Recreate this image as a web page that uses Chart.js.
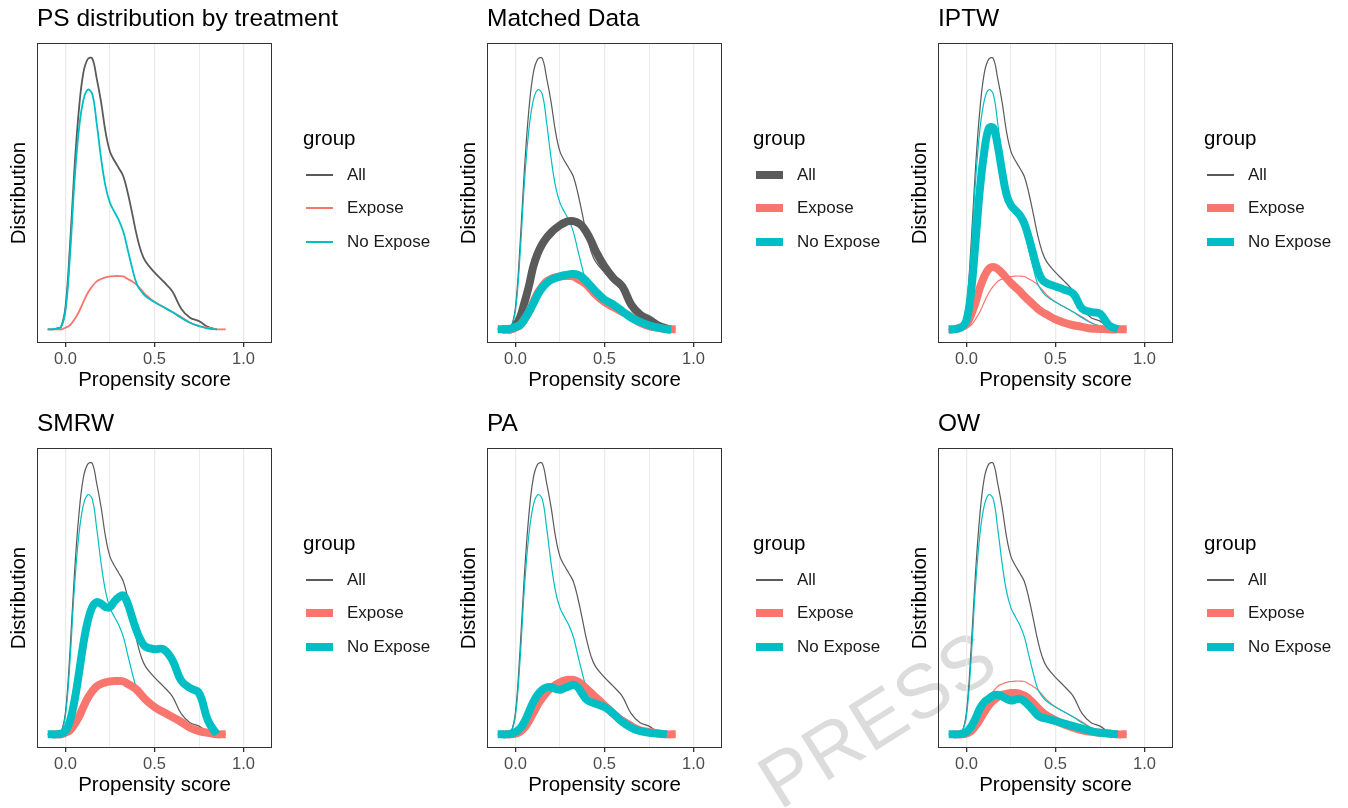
<!DOCTYPE html>
<html lang="en">
<head>
<meta charset="UTF-8">
<title>PS distribution by treatment</title>
<script src="https://cdn.jsdelivr.net/npm/chart.js"></script>
<style>
  body { margin: 0; background: #fff; font-family: "Liberation Sans", Arial, sans-serif; }
  #page { position: relative; width: 1348px; height: 808px; overflow: hidden; }
  .panel { position: absolute; width: 449px; height: 405px; z-index: 1; }
  .panel canvas { position: absolute; left: 0; top: 0; }
  .ptitle { position: absolute; left: 37px; top: 4px; font-size: 24.5px; line-height: 28px; color: #000; white-space: nowrap; }
  .legend { position: absolute; left: 303px; top: 126px; width: 146px; }
  .legend .ltitle { font-size: 20.5px; line-height: 24px; color: #000; }
  .legend .row { position: absolute; left: 0; height: 24px; display: flex; align-items: center; white-space: nowrap; font-size: 17px; color: #1a1a1a; }
  .legend .key { display: inline-block; width: 27px; margin-left: 3px; margin-right: 14px; }
  .watermark { position: absolute; left: 786px; top: 745px; font-size: 76px; line-height: 76px; color: #dcdcdc; transform: rotate(-32deg); transform-origin: 0 100%; letter-spacing: 1px; z-index: 0; white-space: nowrap; }
</style>
</head>
<body>
<div id="page">
  <div class="watermark">PRESS</div>
</div>

<script>
  // propensity score grid (x values shared by every curve)
  const ps = [-0.1, -0.075, -0.05, -0.025, 0, 0.025, 0.05, 0.075, 0.1, 0.125, 0.15, 0.175, 0.2, 0.225, 0.25, 0.275,
              0.3, 0.325, 0.35, 0.375, 0.4, 0.425, 0.45, 0.5, 0.55, 0.6, 0.65, 0.7, 0.75, 0.8, 0.85, 0.875, 0.9];

  // unweighted densities (thin lines, in every panel)
  const allBase      = [0, 0, 0.01, 0.03, 0.27, 1.0, 1.93, 2.65, 3.10, 3.27, 3.28, 3.04, 2.75, 2.39, 2.15, 2.04,
                        1.95, 1.85, 1.65, 1.40, 1.14, 0.94, 0.82, 0.69, 0.58, 0.46, 0.25, 0.14, 0.10, 0.03, 0, null, null];
  const exposeBase   = [null, 0, 0, 0, 0.02, 0.05, 0.12, 0.21, 0.33, 0.44, 0.52, 0.58, 0.61, 0.63, 0.64, 0.645,
                        0.645, 0.64, 0.61, 0.58, 0.54, 0.48, 0.42, 0.33, 0.27, 0.21, 0.15, 0.08, 0.04, 0.02, 0, 0, 0];
  const noExposeBase = [0, 0, 0.01, 0.03, 0.23, 0.88, 1.77, 2.41, 2.77, 2.90, 2.85, 2.50, 2.07, 1.73, 1.53, 1.42,
                        1.32, 1.18, 0.96, 0.74, 0.55, 0.46, 0.40, 0.33, 0.27, 0.21, 0.14, 0.08, 0.04, 0.01, 0, null, null];

  // weighted / matched densities (thick lines)
  const matchedAll      = [null, 0, 0, 0, 0.04, 0.14, 0.32, 0.52, 0.76, 0.92, 1.03, 1.11, 1.17, 1.22, 1.26, 1.29,
                           1.31, 1.31, 1.29, 1.25, 1.17, 1.07, 0.95, 0.76, 0.62, 0.52, 0.30, 0.18, 0.12, 0.05, 0.01, 0, null];
  const matchedNoExpose = [0, 0, 0, 0.01, 0.03, 0.05, 0.12, 0.21, 0.31, 0.42, 0.50, 0.56, 0.60, 0.62, 0.64, 0.655,
                           0.665, 0.67, 0.66, 0.63, 0.58, 0.52, 0.46, 0.36, 0.30, 0.22, 0.14, 0.09, 0.05, 0.02, 0, 0, null];
  const iptwExpose      = [0, 0, 0.01, 0.03, 0.06, 0.17, 0.32, 0.50, 0.64, 0.73, 0.755, 0.73, 0.68, 0.62, 0.56, 0.51,
                           0.46, 0.40, 0.35, 0.30, 0.25, 0.21, 0.18, 0.12, 0.08, 0.05, 0.03, 0.01, 0.005, 0, 0, 0, 0];
  const iptwNoExpose    = [0, 0, 0.01, 0.03, 0.11, 0.44, 1.04, 1.69, 2.15, 2.43, 2.44, 2.23, 1.91, 1.63, 1.50, 1.44,
                           1.38, 1.28, 1.11, 0.91, 0.72, 0.60, 0.56, 0.52, 0.48, 0.43, 0.25, 0.21, 0.19, 0.05, 0, null, null];
  const smrwNoExpose    = [0, 0, 0, 0.01, 0.04, 0.16, 0.40, 0.73, 1.09, 1.37, 1.54, 1.60, 1.58, 1.54, 1.54, 1.61,
                           1.66, 1.68, 1.58, 1.41, 1.25, 1.13, 1.06, 1.03, 1.03, 0.90, 0.65, 0.56, 0.50, 0.17, 0, null, null];
  const paExpose        = [null, 0, 0, 0, 0.01, 0.03, 0.08, 0.16, 0.26, 0.36, 0.44, 0.51, 0.56, 0.60, 0.63, 0.65,
                           0.66, 0.66, 0.64, 0.60, 0.55, 0.50, 0.45, 0.35, 0.25, 0.16, 0.09, 0.05, 0.03, 0.01, 0, 0, 0];
  const paNoExpose      = [0, 0, 0, 0.01, 0.03, 0.07, 0.15, 0.27, 0.39, 0.48, 0.54, 0.57, 0.57, 0.55, 0.54, 0.56,
                           0.58, 0.60, 0.57, 0.49, 0.42, 0.39, 0.37, 0.33, 0.25, 0.15, 0.08, 0.04, 0.02, 0.01, 0, null, null];
  const owExpose        = [null, 0, 0, 0, 0.01, 0.04, 0.10, 0.18, 0.27, 0.35, 0.41, 0.45, 0.48, 0.49, 0.50, 0.50,
                           0.49, 0.47, 0.43, 0.38, 0.32, 0.27, 0.23, 0.17, 0.12, 0.08, 0.05, 0.03, 0.02, 0.01, 0, 0, 0];
  const owNoExpose      = [0, 0, 0, 0.01, 0.03, 0.09, 0.19, 0.31, 0.39, 0.43, 0.47, 0.48, 0.46, 0.43, 0.41, 0.42,
                           0.43, 0.40, 0.35, 0.29, 0.23, 0.20, 0.19, 0.16, 0.13, 0.10, 0.07, 0.04, 0.02, 0.01, 0, null, null];

  const groups = ['All', 'Expose', 'No Expose'];
  const groupColors = ['#5a5a5a', '#F8766D', '#00BFC4'];
  const baseSeries = [allBase, exposeBase, noExposeBase];

  const panels = [
    { title: 'PS distribution by treatment', thin: 1.8, thick: [null, null, null] },
    { title: 'Matched Data', thin: 1.2, thick: [matchedAll, exposeBase, matchedNoExpose] },
    { title: 'IPTW', thin: 1.2, thick: [null, iptwExpose, iptwNoExpose] },
    { title: 'SMRW', thin: 1.2, thick: [null, exposeBase, smrwNoExpose] },
    { title: 'PA', thin: 1.2, thick: [null, paExpose, paNoExpose] },
    { title: 'OW', thin: 1.2, thick: [null, owExpose, owNoExpose] }
  ];
  const panelX = [0, 450, 901];
  const panelY = [0, 405];

  Chart.defaults.font.family = "'Liberation Sans', Arial, sans-serif";

  function points(ys) {
    return ps.map((x, i) => ({ x: x, y: ys[i] })).filter(p => p.y !== null);
  }
  function isMajor(v) {
    return Math.abs(v * 2 - Math.round(v * 2)) < 1e-9;
  }

  // ggplot style box round the panel
  const panelBorder = {
    id: 'panelBorder',
    afterDraw(chart) {
      const { ctx, chartArea: a } = chart;
      ctx.save();
      ctx.strokeStyle = '#333333';
      ctx.lineWidth = 1;
      ctx.strokeRect(a.left + 0.5, a.top + 0.5, a.width - 1, a.height - 1);
      ctx.restore();
    }
  };

  const page = document.getElementById('page');

  panels.forEach((p, k) => {
    const div = document.createElement('div');
    div.className = 'panel';
    div.style.left = panelX[k % 3] + 'px';
    div.style.top = panelY[Math.floor(k / 3)] + 'px';

    const canvas = document.createElement('canvas');
    canvas.width = 449;
    canvas.height = 405;
    div.appendChild(canvas);

    const title = document.createElement('div');
    title.className = 'ptitle';
    title.textContent = p.title;
    div.appendChild(title);

    // legend
    const legend = document.createElement('div');
    legend.className = 'legend';
    legend.innerHTML = '<div class="ltitle">group</div>';
    groups.forEach((g, i) => {
      const row = document.createElement('div');
      row.className = 'row';
      row.style.top = (37 + i * 33.4) + 'px';
      const key = document.createElement('span');
      key.className = 'key';
      key.style.height = (p.thick[i] ? 8 : Math.max(p.thin, 1.5)) + 'px';
      key.style.background = groupColors[i];
      const lab = document.createElement('span');
      lab.textContent = g;
      row.appendChild(key);
      row.appendChild(lab);
      legend.appendChild(row);
    });
    div.appendChild(legend);
    page.appendChild(div);

    const common = {
      pointRadius: 0,
      fill: false,
      tension: 0.4,
      borderCapStyle: 'butt',
      borderJoinStyle: 'round'
    };
    const datasets = [];
    groups.forEach((g, i) => {
      datasets.push(Object.assign({
        label: g,
        data: points(baseSeries[i]),
        borderColor: groupColors[i],
        borderWidth: p.thin,
        order: 5 - i
      }, common));
      if (p.thick[i]) {
        datasets.push(Object.assign({
          label: g + ' (weighted)',
          data: points(p.thick[i]),
          borderColor: groupColors[i],
          borderWidth: 8,
          order: 2 - i
        }, common));
      }
    });

    new Chart(canvas, {
      type: 'line',
      data: { datasets: datasets },
      plugins: [panelBorder],
      options: {
        responsive: false,
        animation: false,
        layout: { padding: { left: 0, top: 43, right: 177, bottom: 0 } },
        plugins: { legend: { display: false }, tooltip: { enabled: false } },
        scales: {
          x: {
            type: 'linear',
            min: -0.16,
            max: 1.16,
            afterFit: s => { s.height = 62; },
            border: { display: false },
            grid: {
              color: '#ebebeb',
              lineWidth: c => (c.tick && isMajor(c.tick.value)) ? 1.3 : 1,
              tickColor: c => (c.tick && isMajor(c.tick.value)) ? '#333333' : 'rgba(0,0,0,0)',
              tickLength: 4,
              drawTicks: true
            },
            ticks: {
              stepSize: 0.25,
              includeBounds: false,
              autoSkip: false,
              maxRotation: 0,
              padding: 3,
              color: '#4d4d4d',
              font: { size: 16.5 },
              callback: v => isMajor(v) ? v.toFixed(1) : ''
            },
            title: {
              display: true,
              text: 'Propensity score',
              color: '#000',
              font: { size: 20.5 },
              padding: { top: 0, bottom: 12 }
            }
          },
          y: {
            min: -0.165,
            max: 3.465,
            afterFit: s => { s.width = 37; },
            border: { display: false },
            grid: { display: false },
            ticks: { display: false },
            title: {
              display: true,
              text: 'Distribution',
              color: '#000',
              font: { size: 20.5 },
              padding: { top: 7, bottom: 0 }
            }
          }
        }
      }
    });
  });
</script>
</body>
</html>
